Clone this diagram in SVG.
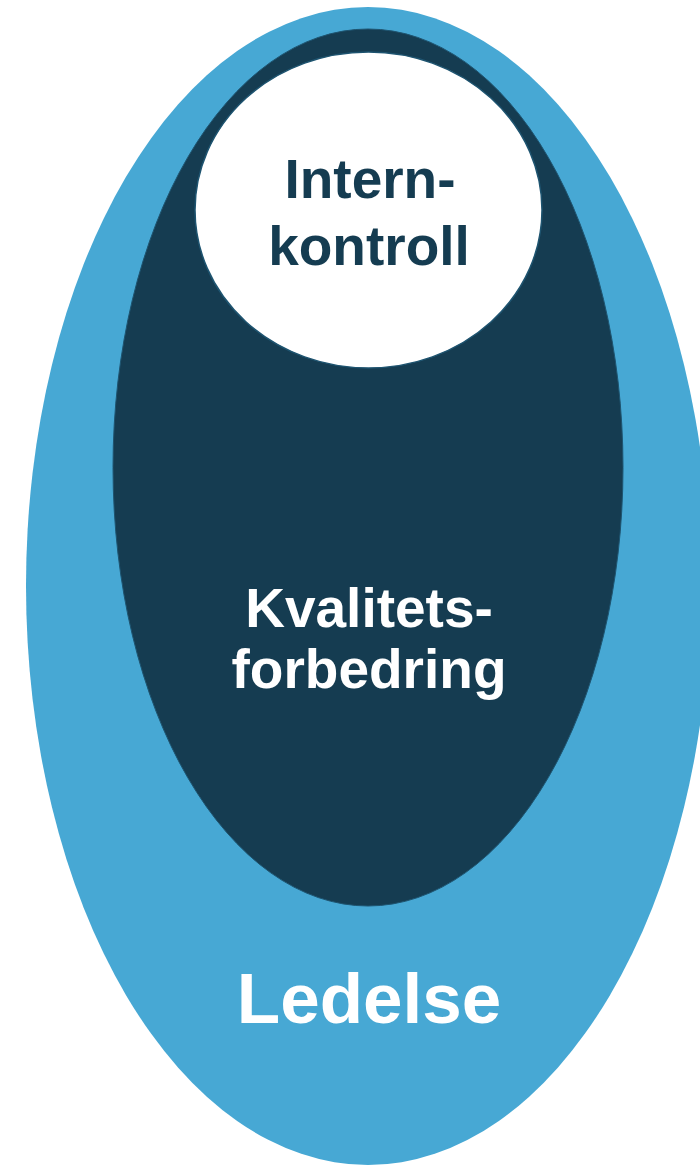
<svg xmlns="http://www.w3.org/2000/svg" width="700" height="1166" viewBox="0 0 700 1166">
<style>
.lbl{font-family:"Liberation Sans",Arial,sans-serif;font-weight:bold;text-anchor:middle}
</style>
<rect width="700" height="1166" fill="#ffffff"/>
<g id="ledelse">
<ellipse cx="368" cy="586" rx="342" ry="579" fill="#47A8D4"/>
<text class="lbl" x="369" y="1023" font-size="71" fill="#ffffff">Ledelse</text>
</g>
<g id="kvalitetsforbedring">
<ellipse cx="368" cy="467.5" rx="255" ry="438.5" fill="#153C51" stroke="#1E5470" stroke-width="1"/>
<text class="lbl" x="369" y="627" font-size="55" fill="#ffffff">Kvalitets-</text>
<text class="lbl" x="369" y="688" font-size="55" fill="#ffffff">forbedring</text>
</g>
<g id="internkontroll">
<ellipse cx="368.5" cy="210" rx="173.5" ry="158" fill="#ffffff" stroke="#1E5470" stroke-width="1.5"/>
<text class="lbl" x="370" y="198" font-size="55" fill="#153C51">Intern-</text>
<text class="lbl" x="369" y="265" font-size="55" fill="#153C51">kontroll</text>
</g>
<g id="connectors"/>
</svg>
